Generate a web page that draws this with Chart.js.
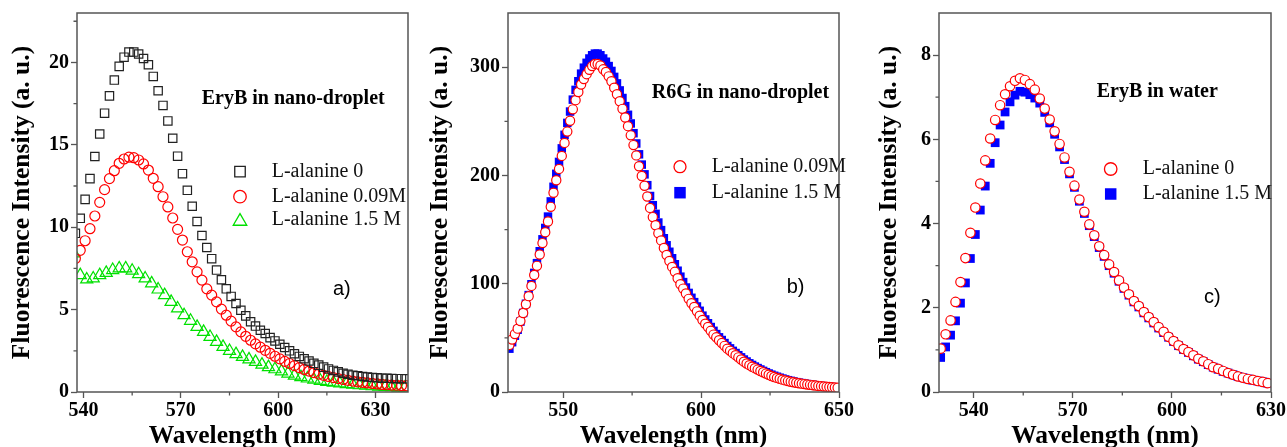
<!DOCTYPE html>
<html><head><meta charset="utf-8">
<script src="https://cdn.jsdelivr.net/npm/chart.js@4.4.1/dist/chart.umd.min.js"></script>
<style>
html,body{margin:0;padding:0;background:#fff;overflow:hidden;width:1287px;height:447px;position:relative;}
canvas{position:absolute;top:0;}
</style></head><body>
<canvas id="ca" width="420" height="470" style="left:0px"></canvas>
<canvas id="cb" width="440" height="470" style="left:420px"></canvas>
<canvas id="cc" width="427" height="470" style="left:860px"></canvas>
<script>
// ---------- Panel a : EryB in nano-droplet ----------
const wlA = [537.5,539,540.5,542,543.5,545,546.5,548,549.5,551,552.5,554,555.5,557,558.5,560,561.5,563,564.5,566,567.5,569,570.5,572,573.5,575,576.5,578,579.5,581,582.5,584,585.5,587,588.5,590,591.5,593,594.5,596,597.5,599,600.5,602,603.5,605,606.5,608,609.5,611,612.5,614,615.5,617,618.5,620,621.5,623,624.5,626,627.5,629,630.5,632,633.5,635,636.5,638,639.5];
const eryDrop0 = [9.63,10.54,11.69,12.95,14.29,15.66,16.92,17.97,18.93,19.76,20.32,20.63,20.63,20.51,20.24,19.86,19.15,18.28,17.39,16.45,15.40,14.31,13.25,12.24,11.27,10.35,9.50,8.77,8.09,7.40,6.81,6.26,5.80,5.37,4.96,4.62,4.26,4.0,3.75,3.55,3.3,3.1,2.9,2.7,2.5,2.32,2.16,2.02,1.88,1.74,1.63,1.51,1.40,1.31,1.22,1.14,1.08,1.02,0.98,0.94,0.91,0.88,0.86,0.84,0.83,0.82,0.81,0.81,0.80];
const eryDrop009 = [8.1,8.6,9.18,9.91,10.68,11.51,12.28,12.95,13.43,13.88,14.14,14.25,14.22,14.08,13.84,13.47,12.97,12.46,11.85,11.23,10.56,9.87,9.22,8.51,7.90,7.29,6.79,6.26,5.88,5.47,5.03,4.66,4.30,3.95,3.65,3.38,3.14,2.92,2.72,2.53,2.35,2.17,2.01,1.86,1.73,1.60,1.48,1.37,1.27,1.18,1.09,1.01,0.94,0.87,0.81,0.76,0.71,0.66,0.62,0.58,0.55,0.52,0.49,0.46,0.44,0.42,0.41,0.39,0.38];
const wlA3 = [537,539,541,543,545,547,549,551,553,555,557,559,561,563,565,567,569,571,573,575,577,579,581,583,585,587,589,591,593,595,597,599,601,603,605,607,609,611,613,615,617,619,621,623,625,627,629,631,633,635,637,639];
const eryDrop15 = [8.41,7.09,6.83,6.89,7.09,7.23,7.40,7.50,7.50,7.36,7.15,6.89,6.59,6.22,5.88,5.47,5.07,4.66,4.32,3.95,3.65,3.34,3.04,2.74,2.49,2.30,2.13,1.98,1.83,1.66,1.51,1.38,1.25,1.12,0.99,0.90,0.82,0.75,0.68,0.62,0.57,0.52,0.48,0.44,0.41,0.38,0.35,0.33,0.31,0.29,0.27,0.26];
const xTicksA = [540,570,600,630], xMinorA = [555,585,615];
const yTicksA = [0,5,10,15,20], yMinorA = [2.5,7.5,12.5,17.5,22.5];

// ---------- Panel b : R6G in nano-droplet ----------
const wlB = [530.5,531.5,532.5,533.5,534.5,535.5,536.5,537.5,538.5,539.5,540.5,541.5,542.5,543.5,544.5,545.5,546.5,547.5,548.5,549.5,550.5,551.5,552.5,553.5,554.5,555.5,556.5,557.5,558.5,559.5,560.5,561.5,562.5,563.5,564.5,565.5,566.5,567.5,568.5,569.5,570.5,571.5,572.5,573.5,574.5,575.5,576.5,577.5,578.5,579.5,580.5,581.5,582.5,583.5,584.5,585.5,586.5,587.5,588.5,589.5,590.5,591.5,592.5,593.5,594.5,595.5,596.5,597.5,598.5,599.5,600.5,601.5,602.5,603.5,604.5,605.5,606.5,607.5,608.5,609.5,610.5,611.5,612.5,613.5,614.5,615.5,616.5,617.5,618.5,619.5,620.5,621.5,622.5,623.5,624.5,625.5,626.5,627.5,628.5,629.5,630.5,631.5,632.5,633.5,634.5,635.5,636.5,637.5,638.5,639.5,640.5,641.5,642.5,643.5,644.5,645.5,646.5,647.5,648.5,649.5];
const r6g009 = [43.5,48.5,53.5,58.5,65.5,73,81,88.5,98,108,116.5,127,137.5,147.5,157.5,171,184,195.5,206,218,230,240.5,250.5,261,269.5,277,284,289,293.5,297.5,301,303,303,301.5,298,295.5,291.5,287,281,275,268.5,261.5,253.5,245.5,237,228,218.5,208.5,199.5,190.5,180.5,170,161.5,154,146.5,140,133,126.5,121,115.5,111,105,99.5,95.5,91,86,82,78.5,74.5,70.5,66.5,63,60,56.5,53,50.5,47.8,45.2,42.6,40,38,35.9,34,32,30,28,26.3,24.8,23.3,22,20.7,19.4,18.2,17,15.9,14.8,13.9,13.0,12.2,11.4,10.7,10.1,9.5,9.0,8.5,8.1,7.7,7.3,6.9,6.6,6.3,6.0,5.6,5.4,5.1,4.8,4.6,4.4,4.2,4.0];
const r6g15 = [40,46,52,57.5,65,73,81.5,89.5,99.5,110,119,130,141,151.5,162,176,189.5,201.5,212.5,225,237.5,248.5,259,270,279,287,294,299.5,304,308,311,312.5,312.5,311,308,305,301,296.5,291,285,278.5,271.5,264,256,248,239,229.5,219.5,210,201,191,181,172.5,164.5,156.5,149.5,142,135.5,129.5,123.5,118,112,106.5,101.5,96.5,91.5,87,83,79,75,70.5,67,63.5,60,56.5,53.5,50.5,48,45.2,42.5,40.3,38,36,34,32,30,28.2,26.5,25,23.5,22.1,20.8,19.5,18.3,17.1,16,15,14.1,13.2,12.4,11.6,10.9,10.3,9.7,9.1,8.6,8.2,7.7,7.3,6.9,6.6,6.2,5.9,5.6,5.3,5.1,4.8,4.6,4.4,4.2];
const xTicksB = [550,600,650], xMinorB = [575,625];
const yTicksB = [0,100,200,300], yMinorB = [50,150,250];

// ---------- Panel c : EryB in water ----------
const wlC = [530,531.5,533,534.5,536,537.5,539,540.5,542,543.5,545,546.5,548,549.5,551,552.5,554,555.5,557,558.5,560,561.5,563,564.5,566,567.5,569,570.5,572,573.5,575,576.5,578,579.5,581,582.5,584,585.5,587,588.5,590,591.5,593,594.5,596,597.5,599,600.5,602,603.5,605,606.5,608,609.5,611,612.5,614,615.5,617,618.5,620,621.5,623,624.5,626,627.5,629];
const eryWater0 = [1.03,1.37,1.70,2.14,2.61,3.18,3.78,4.38,4.95,5.50,6.02,6.46,6.81,7.07,7.26,7.39,7.45,7.41,7.31,7.18,6.97,6.73,6.47,6.19,5.89,5.57,5.23,4.90,4.57,4.28,3.98,3.72,3.46,3.25,3.03,2.85,2.65,2.48,2.32,2.16,2.04,1.90,1.78,1.66,1.54,1.43,1.31,1.21,1.11,1.02,0.95,0.87,0.79,0.73,0.66,0.59,0.55,0.50,0.45,0.41,0.37,0.34,0.31,0.29,0.26,0.24,0.21];
const eryWater15 = [0.82,1.07,1.35,1.69,2.11,2.59,3.17,3.74,4.32,4.89,5.43,5.92,6.34,6.65,6.89,7.05,7.14,7.12,7.06,6.98,6.86,6.64,6.39,6.12,5.82,5.52,5.18,4.86,4.53,4.24,3.95,3.69,3.43,3.22,3.00,2.82,2.63,2.46,2.30,2.14,2.02,1.88,1.76,1.64,1.52,1.41,1.30,1.20,1.10,1.01,0.94,0.86,0.78,0.72,0.65,0.59,0.54,0.49,0.45,0.41,0.37,0.34,0.31,0.28,0.26,0.24,0.21];
const xTicksC = [540,570,600,630], xMinorC = [555,585,615];
const yTicksC = [0,2,4,6,8], yMinorC = [1,3,5,7];

// ---------- common ----------
const SERIF = "'Liberation Serif','Times New Roman',serif";
const SANS = "'Liberation Sans',Arial,sans-serif";
const AXIS = '#555';

function pts(xs, ys){ return xs.map((x,i)=>({x:x, y:ys[i]})); }

function drawMarker(c, m, x, y){
  c.beginPath();
  const s = m.size;
  if (m.style === 'rect') c.rect(x - s/2, y - s/2, s, s);
  else if (m.style === 'circle') c.arc(x, y, s/2, 0, Math.PI*2);
  else { const h = s*0.866; c.moveTo(x, y - h*0.55); c.lineTo(x + s/2, y + h*0.45); c.lineTo(x - s/2, y + h*0.45); c.closePath(); }
  if (m.fill) { c.fillStyle = m.fill; c.fill(); }
  if (m.lw) { c.lineWidth = m.lw; c.strokeStyle = m.stroke; c.stroke(); }
}

function makeDecor(spec){
  return {
    id: 'decor',
    afterDraw(chart){
      const c = chart.ctx, a = chart.chartArea;
      const xs = chart.scales.x, ys = chart.scales.y;
      c.save();
      // minor ticks
      c.strokeStyle = AXIS; c.lineWidth = 1.3;
      c.beginPath();
      spec.xMinor.forEach(v => { const p = xs.getPixelForValue(v); c.moveTo(p, a.bottom); c.lineTo(p, a.bottom + 3.5); });
      spec.yMinor.forEach(v => { const p = ys.getPixelForValue(v); c.moveTo(a.left, p); c.lineTo(a.left - 3.5, p); });
      c.stroke();
      // frame
      c.lineWidth = 1.5; c.strokeStyle = AXIS;
      c.strokeRect(a.left, a.top, a.right - a.left, a.bottom - a.top);
      // sample title
      c.fillStyle = '#000'; c.textBaseline = 'alphabetic'; c.textAlign = 'left';
      c.font = 'bold 20px ' + SERIF;
      c.fillText(spec.title, spec.titleX, spec.titleY);
      // panel letter
      c.font = '20px ' + SANS;
      c.fillText(spec.letter, spec.letterX, spec.letterY);
      // legend
      c.font = '20px ' + SERIF; c.textBaseline = 'middle';
      chart.data.datasets.forEach((ds, i) => {
        const y = spec.legendRows[i];
        drawMarker(c, spec.legendMarkers[i], spec.legendMarkerX, y);
        c.fillStyle = '#111';
        c.fillText(ds.label, spec.legendTextX, y);
      });
      c.restore();
    }
  };
}

function makeChart(id, cfg){
  const ctx = document.getElementById(id);
  return new Chart(ctx, {
    type: 'scatter',
    data: { datasets: cfg.datasets },
    options: {
      responsive: false, animation: false, events: [],
      layout: { padding: { left: 0, top: 13, right: cfg.padRight, bottom: 0 } },
      plugins: { legend: { display: false }, tooltip: { enabled: false } },
      scales: {
        x: {
          type: 'linear', min: cfg.xMin, max: cfg.xMax,
          afterBuildTicks: s => { s.ticks = cfg.xTicks.map(v => ({ value: v })); },
          afterFit: s => { s.height = 78; s.paddingLeft = 0; s.paddingRight = 0; },
          ticks: { font: { family: SERIF, size: 20, weight: 'bold' }, color: '#000', padding: 1, maxRotation: 0, autoSkip: false },
          grid: { display: true, drawOnChartArea: false, drawTicks: true, tickLength: 6, color: AXIS, tickWidth: 1.3 },
          border: { display: false },
          title: { display: true, text: 'Wavelength (nm)', color: '#000', font: { family: SERIF, size: 25.5, weight: 'bold' }, padding: { top: 0, bottom: 18 } }
        },
        y: {
          type: 'linear', min: cfg.yMin, max: cfg.yMax,
          afterBuildTicks: s => { s.ticks = cfg.yTicks.map(v => ({ value: v })); },
          afterFit: s => { s.width = cfg.yWidth; s.paddingTop = 0; s.paddingBottom = 0; },
          ticks: { font: { family: SERIF, size: 20, weight: 'bold' }, color: '#000', padding: 2, autoSkip: false },
          grid: { display: true, drawOnChartArea: false, drawTicks: true, tickLength: 6, color: AXIS, tickWidth: 1.3 },
          border: { display: false },
          title: { display: true, text: 'Fluorescence Intensity (a. u.)', color: '#000', font: { family: SERIF, size: 25.5, weight: 'bold' }, padding: { top: cfg.yTitlePad, bottom: 0 } }
        }
      }
    },
    plugins: [makeDecor(cfg.decor)]
  });
}

function series(label, data, style, radius, stroke, fill, bw){
  return { label: label, data: data, showLine: false, clip: 0,
    pointStyle: style, pointRadius: radius, pointHoverRadius: radius,
    pointBorderColor: stroke, borderColor: stroke,
    pointBackgroundColor: fill, backgroundColor: fill, pointBorderWidth: bw };
}

// Panel a
makeChart('ca', {
  padRight: 12, yWidth: 77, yTitlePad: 7.2,
  xMin: 538, xMax: 640, yMin: 0, yMax: 23, xTicks: xTicksA, yTicks: yTicksA,
  datasets: [
    series('L-alanine 0', pts(wlA, eryDrop0), 'rect', 5.9, '#222', 'rgba(0,0,0,0)', 1.2),
    series('L-alanine 0.09M', pts(wlA, eryDrop009), 'circle', 5.0, '#ff0000', 'rgba(0,0,0,0)', 1.2),
    series('L-alanine 1.5 M', pts(wlA3, eryDrop15), 'triangle', 7.0, '#00e000', 'rgba(0,0,0,0)', 1.2)
  ],
  decor: {
    xMinor: xMinorA, yMinor: yMinorA,
    title: 'EryB in nano-droplet', titleX: 201.7, titleY: 104,
    letter: 'a)', letterX: 333, letterY: 295,
    legendMarkerX: 240, legendTextX: 271.7, legendRows: [171.7, 196.7, 220],
    legendMarkers: [
      { style: 'rect', size: 10.5, stroke: '#222', lw: 1.3 },
      { style: 'circle', size: 12.5, stroke: '#ff0000', lw: 1.3 },
      { style: 'triangle', size: 13.5, stroke: '#00e000', lw: 1.3 }
    ]
  }
});

// Panel b
makeChart('cb', {
  padRight: 21, yWidth: 88, yTitlePad: 5.5,
  xMin: 530, xMax: 650, yMin: 0, yMax: 350, xTicks: xTicksB, yTicks: yTicksB,
  datasets: [
    series('L-alanine 0.09M', pts(wlB, r6g009), 'circle', 4.6, '#ff0000', '#ffffff', 1.2),
    series('L-alanine 1.5 M', pts(wlB, r6g15), 'rect', 6.0, '#0000ff', '#0000ff', 0)
  ],
  decor: {
    xMinor: xMinorB, yMinor: yMinorB,
    title: 'R6G in nano-droplet', titleX: 231.7, titleY: 98.3,
    letter: 'b)', letterX: 366.7, letterY: 293,
    legendMarkerX: 260, legendTextX: 291.7, legendRows: [166.7, 192.7],
    legendMarkers: [
      { style: 'circle', size: 12, stroke: '#ff0000', fill: '#ffffff', lw: 1.3 },
      { style: 'rect', size: 11.5, stroke: '#0000ff', fill: '#0000ff', lw: 0 }
    ]
  }
});

// Panel c
makeChart('cc', {
  padRight: 16, yWidth: 79, yTitlePad: 13.7,
  xMin: 529.5, xMax: 630, yMin: 0, yMax: 9, xTicks: xTicksC, yTicks: yTicksC,
  datasets: [
    series('L-alanine 0', pts(wlC, eryWater0), 'circle', 4.7, '#ff0000', '#ffffff', 1.2),
    series('L-alanine 1.5 M', pts(wlC, eryWater15), 'rect', 6.2, '#0000ff', '#0000ff', 0)
  ],
  decor: {
    xMinor: xMinorC, yMinor: yMinorC,
    title: 'EryB in water', titleX: 236.7, titleY: 97.3,
    letter: 'c)', letterX: 344, letterY: 303,
    legendMarkerX: 250.7, legendTextX: 282.7, legendRows: [169, 194],
    legendMarkers: [
      { style: 'circle', size: 12.5, stroke: '#ff0000', fill: '#ffffff', lw: 1.3 },
      { style: 'rect', size: 11.5, stroke: '#0000ff', fill: '#0000ff', lw: 0 }
    ]
  }
});
</script>
</body></html>
